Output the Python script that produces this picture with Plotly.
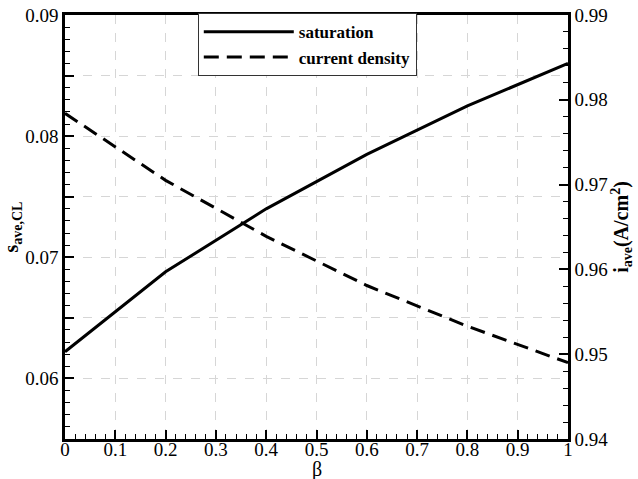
import plotly.graph_objects as go

beta = [0.0, 0.2, 0.4, 0.6, 0.8, 1.0]
saturation = [0.0622, 0.0688, 0.0740, 0.0785, 0.0825, 0.0860]
current_density = [0.9784, 0.9705, 0.9639, 0.9581, 0.9533, 0.9490]

# left axis: ticks every 0.005, labels only every 0.01
y_hidden_labels = ["0.055", "0.065", "0.075", "0.085"]

FONT = "Liberation Serif"
TICK = "#000000"

fig = go.Figure()
fig.add_trace(go.Scatter(x=beta, y=saturation, mode="lines", name="saturation",
                         line=dict(color="black", width=3), yaxis="y"))
fig.add_trace(go.Scatter(x=beta, y=current_density, mode="lines", name="current density",
                         line=dict(color="black", width=3, dash="15px,8px"), yaxis="y2"))

fig.update_layout(
    width=638, height=479,
    margin=dict(l=65, r=70, t=15, b=40),
    paper_bgcolor="white", plot_bgcolor="white",
    font=dict(family=FONT, color="black"),
    showlegend=True,
    legend=dict(x=0.264, y=1.004, xanchor="left", yanchor="top",
                bgcolor="white", bordercolor="#333333", borderwidth=1,
                font=dict(family=FONT, size=17, color="black", weight="bold"),
                itemwidth=90, tracegroupgap=0),
    xaxis=dict(range=[0, 1], tickmode="linear", tick0=0, dtick=0.1,
               showline=True, linecolor="black", linewidth=2.5, mirror=True,
               ticks="inside", ticklen=9, tickwidth=1.5, tickcolor=TICK,
               minor=dict(dtick=0.02, ticks="inside", ticklen=5, tickwidth=1.2, tickcolor=TICK),
               tickfont=dict(family=FONT, size=19, color="black"), ticklabelstandoff=-9,
               showgrid=True, gridcolor="#d6d6d6", griddash="dash", zeroline=False, automargin=False),
    yaxis=dict(range=[0.055, 0.09], tickmode="linear", tick0=0.055, dtick=0.005,
               labelalias={k: " " for k in y_hidden_labels},
               showline=True, linecolor="black", linewidth=2.5,
               ticks="inside", ticklen=9, tickwidth=1.5, tickcolor=TICK,
               minor=dict(dtick=0.001, ticks="inside", ticklen=5, tickwidth=1.2, tickcolor=TICK),
               tickfont=dict(family=FONT, size=19, color="black"),
               showgrid=True, gridcolor="#d6d6d6", griddash="dash", zeroline=False, automargin=False,
               title=dict(text="s<sub>ave,CL</sub>", font=dict(family=FONT, size=20, color="black", weight="bold"), standoff=2)),
    yaxis2=dict(range=[0.94, 0.99], tickmode="linear", tick0=0.94, dtick=0.01,
                overlaying="y", side="right", showgrid=False,
                showline=True, linecolor="black", linewidth=2.5,
                ticks="inside", ticklen=9, tickwidth=1.5, tickcolor=TICK,
                minor=dict(dtick=0.002, ticks="inside", ticklen=5, tickwidth=1.2, tickcolor=TICK),
                tickfont=dict(family=FONT, size=19, color="black"), zeroline=False, automargin=False,
                title=dict(text="i<sub>ave</sub>(A/cm<sup>2</sup>)", font=dict(family=FONT, size=20, color="black", weight="bold"), standoff=5)),
    annotations=[dict(text="β", xref="paper", yref="paper", x=0.5, y=-0.072,
                      xanchor="center", yanchor="middle", showarrow=False,
                      font=dict(family=FONT, size=20, color="black"))],
)

fig.write_html("out.html")
